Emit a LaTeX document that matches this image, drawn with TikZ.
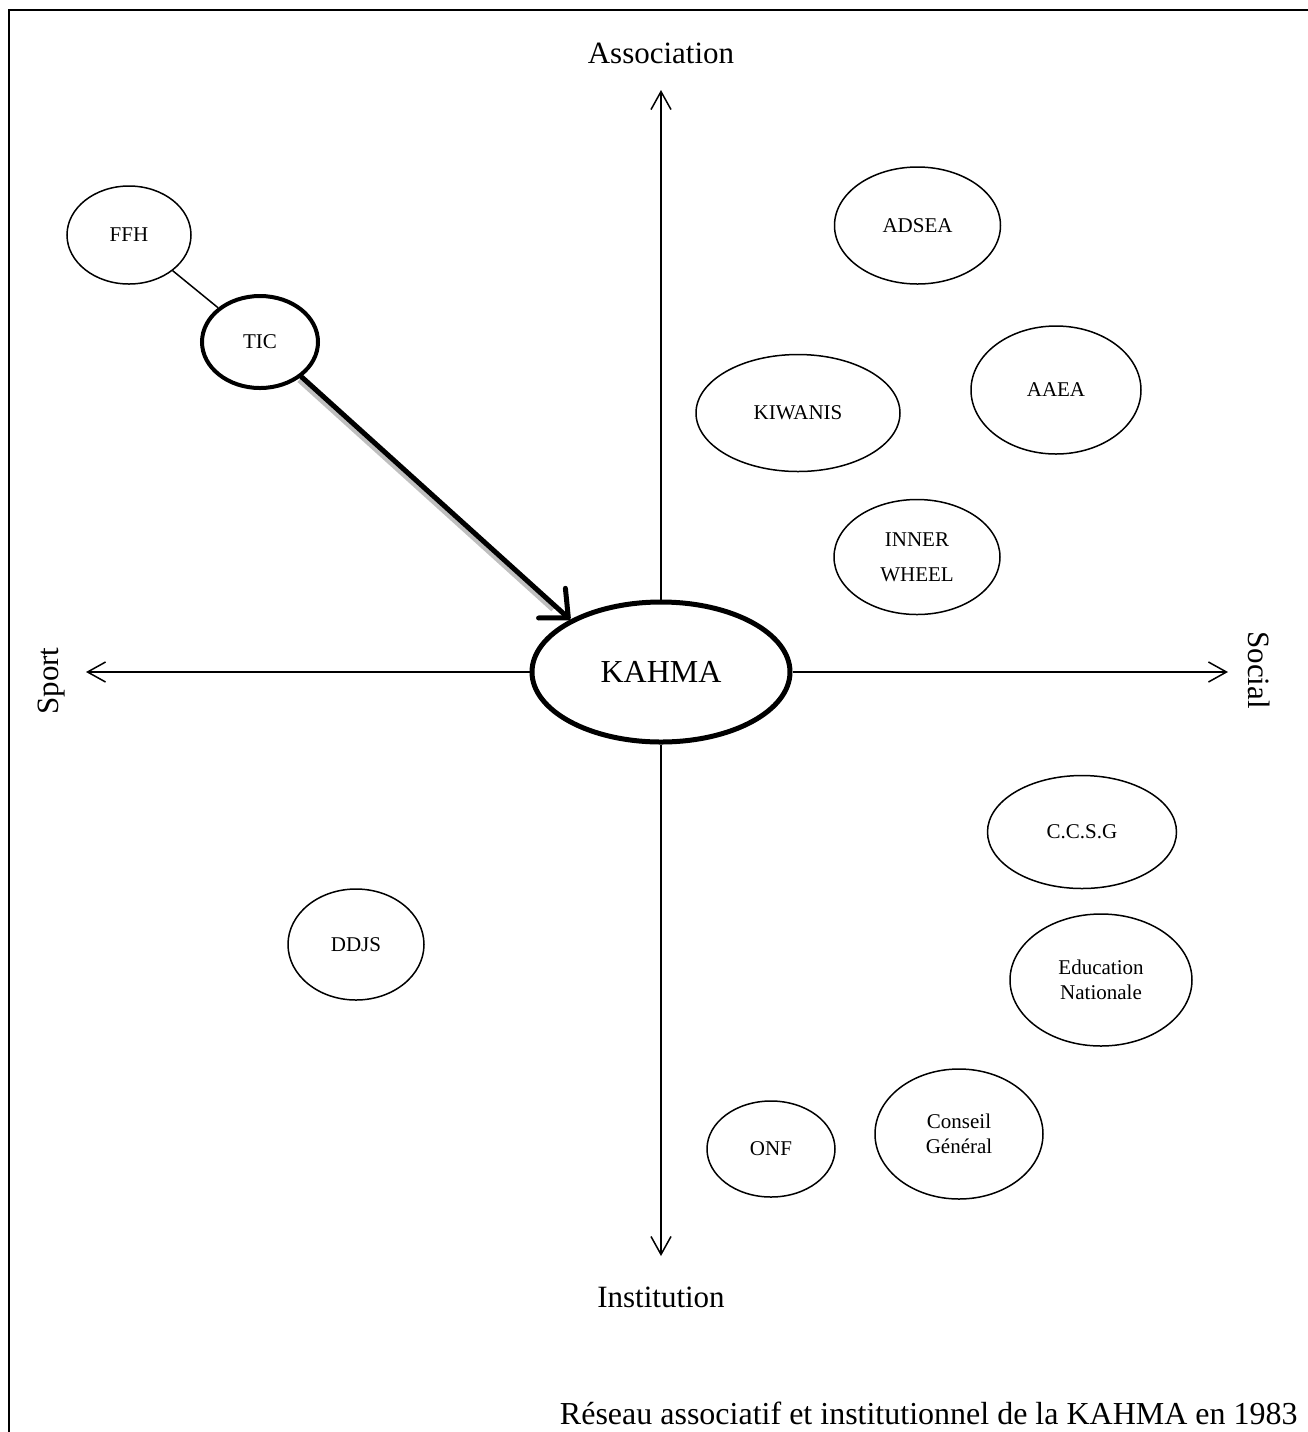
\documentclass[tikz,border=0pt]{standalone}
\usepackage{fontspec}
\setmainfont{Liberation Serif}
\usetikzlibrary{shapes.geometric,arrows.meta}

\begin{document}
\begin{tikzpicture}[x=0.5pt,y=-0.5pt,
  org/.style={draw, ellipse, fill=white, line width=0.75pt, inner sep=0pt,
    align=center, font=\fontsize{10.5}{12.6}\selectfont},
  axis/.style={line width=0.75pt, -{Straight Barb[length=9pt,width=10pt]}},
  pole/.style={font=\fontsize{15.5}{18}\selectfont}]
  \useasboundingbox (0,0) rectangle (1308,1432);
  \draw[line width=1.25pt] (9,1440) -- (9,10) -- (1320,10);

  % centre
  \node[org, line width=2.5pt, minimum width=129pt, minimum height=70pt,
    font=\fontsize{16}{19}\selectfont] (kahma) at (661,672) {KAHMA};

  % axes
  \coordinate (top) at (661,90);
  \coordinate (bottom) at (661,1256);
  \coordinate (left) at (86,672);
  \coordinate (right) at (1228,672);
  \draw[axis] (kahma) -- (top);
  \draw[axis] (kahma) -- (bottom);
  \draw[axis] (kahma) -- (left);
  \draw[axis] (kahma) -- (right);
  \node[pole] (assoc) at (661,53) {Association};
  \node[pole] (instit) at (661,1297) {Institution};
  \node[pole, rotate=-90] (social) at (1259,670) {Social};
  \node[pole, rotate=90] (sport) at (52,681) {Sport};

  % sport
  \node[org, minimum width=62pt, minimum height=49pt] (ffh) at (129,235) {FFH};
  \node[org, line width=2pt, minimum width=58pt, minimum height=46pt] (tic) at (260,342) {TIC};
  \node[org, minimum width=68pt, minimum height=55.5pt] (ddjs) at (356,944.5) {DDJS};

  % associations
  \node[org, minimum width=83pt, minimum height=58.5pt] (adsea) at (917.5,225.5) {ADSEA};
  \node[org, minimum width=102pt, minimum height=58.5pt] (kiwanis) at (798,413) {KIWANIS};
  \node[org, minimum width=85pt, minimum height=64pt] (aaea) at (1056,390) {AAEA};
  \node[org, minimum width=83pt, minimum height=57.5pt] (inner) at (917,557) {INNER\\[5pt]WHEEL};

  % institutions
  \node[org, minimum width=94.5pt, minimum height=56.5pt] (ccsg) at (1082,832) {C.C.S.G};
  \node[org, minimum width=91pt, minimum height=66pt] (educ) at (1101,980) {Education\\Nationale};
  \node[org, minimum width=84pt, minimum height=65pt] (conseil) at (959,1134) {Conseil\\Général};
  \node[org, minimum width=64pt, minimum height=48pt] (onf) at (771,1149) {ONF};

  % links
  \draw[line width=0.75pt] (ffh) -- (tic);
  \draw[line width=3pt, black!25, shorten >=10pt,
    transform canvas={shift={(-2,3)}}] (tic.-40) -- (kahma.150);
  \draw[line width=2.5pt, line cap=round,
    -{Straight Barb[length=11pt,width=20pt,round]}] (tic.-40) -- (kahma.150);

  \node[anchor=base east, inner sep=0pt, font=\fontsize{16}{19}\selectfont] (caption)
    at (1298,1424) {Réseau associatif et institutionnel de la KAHMA en 1983};
\end{tikzpicture}
\end{document}
